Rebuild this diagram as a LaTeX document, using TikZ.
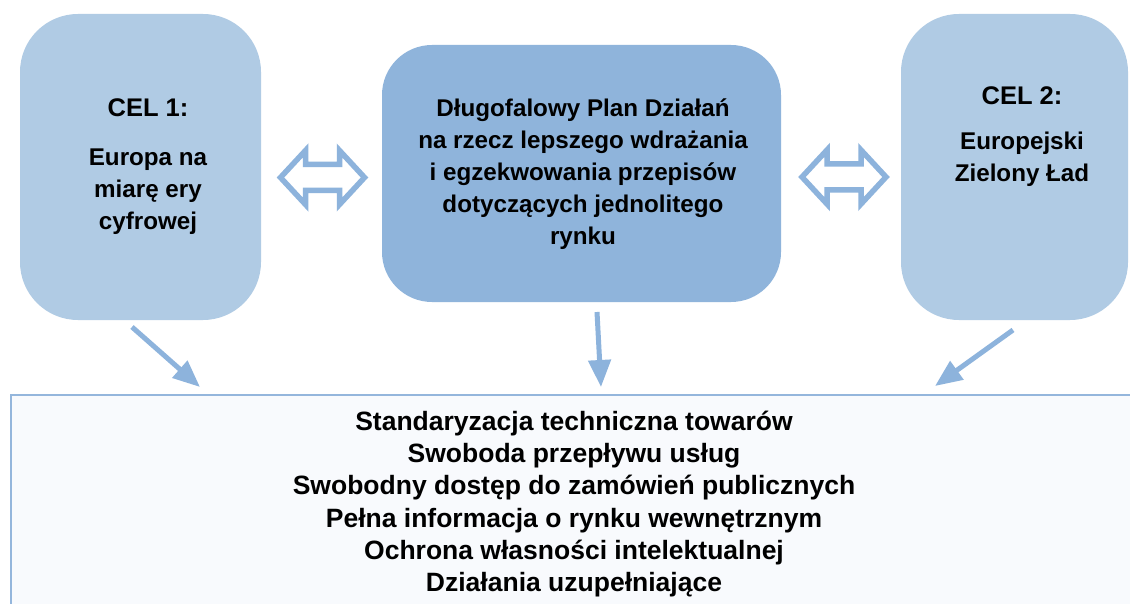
\documentclass[tikz,border=0pt]{standalone}
\usepackage{fontspec}
\setmainfont{Liberation Sans}
\usetikzlibrary{arrows.meta}

\definecolor{celfill}{HTML}{B0CBE4}
\definecolor{planfill}{HTML}{8FB4DB}
\definecolor{arrowblue}{HTML}{8DB3DC}
\definecolor{framefill}{HTML}{F8FAFD}
\definecolor{frameline}{HTML}{94B6DC}

\tikzset{
  celbox/.style={draw=none, fill=celfill, rounded corners=58pt,
    minimum width=241pt, minimum height=306pt, inner sep=0pt},
  planbox/.style={draw=none, fill=planfill, rounded corners=50pt,
    minimum width=399pt, minimum height=257pt, inner sep=0pt},
  label/.style={font=\bfseries\fontsize{24.2}{32}\selectfont, align=center,
    text=black, inner sep=0pt},
  title/.style={label, font=\bfseries\fontsize{25.5}{32}\selectfont},
  listing/.style={label, font=\bfseries\fontsize{26.5}{32.3}\selectfont},
  flow/.style={draw=arrowblue, line width=5pt,
    -{Triangle[length=27pt,width=22pt]}},
  twoway/.pic={
    \draw[draw=arrowblue, line width=5.5pt, fill=white, line join=miter]
      (-42,0) -- (-17,-27) -- (-17,-13) -- (17,-13) -- (17,-27) -- (42,0)
      -- (17,27) -- (17,13) -- (-17,13) -- (-17,27) -- cycle;
  }
}

\begin{document}
\begin{tikzpicture}[x=1pt,y=-1pt]
  \clip (0,0) rectangle (1130,604);
  \fill[white] (0,0) rectangle (1130,604);

  % goals and the plan
  \node[celbox]  (cel1) at (140.5,167) {};
  \node[celbox, minimum width=227pt] (cel2) at (1014.5,167) {};
  \node[planbox] (plan) at (581.5,173.5) {};

  \node[title] (cel1title) at (148,108) {CEL 1:};
  \node[label] (cel1text)  at (148,192) {Europa na\\miarę ery\\cyfrowej};
  \node[title] (cel2title) at (1022,96) {CEL 2:};
  \node[label] (cel2text)  at (1022,159.5) {Europejski\\Zielony Ład};
  \node[label] (plantext)  at (583,174) {Długofalowy Plan Działań\\na rzecz lepszego wdrażania\\i egzekwowania przepisów\\dotyczących jednolitego\\rynku};

  % two-way links between the goals and the plan
  \pic (link1) at (322.5,177.5) {twoway};
  \pic (link2) at (844,177) {twoway};

  % areas of action
  \node[draw=frameline, line width=2pt, fill=framefill, anchor=north west,
        minimum width=1160pt, minimum height=260pt, inner sep=0pt]
        (areas) at (10,394) {};
  \node[listing] (areatext) at (574,504) {Standaryzacja techniczna towarów\\Swoboda przepływu usług\\Swobodny dostęp do zamówień publicznych\\Pełna informacja o rynku wewnętrznym\\Ochrona własności intelektualnej\\Działania uzupełniające};

  % arrows into the areas of action
  \coordinate (f1s) at (132,327);
  \coordinate (f1e) at (200,387);
  \coordinate (f2s) at (597,312);
  \coordinate (f2e) at (601,387);
  \coordinate (f3s) at (1013,330);
  \coordinate (f3e) at (935,386);
  \draw[flow] (f1s) -- (f1e);
  \draw[flow] (f2s) -- (f2e);
  \draw[flow] (f3s) -- (f3e);
\end{tikzpicture}
\end{document}
